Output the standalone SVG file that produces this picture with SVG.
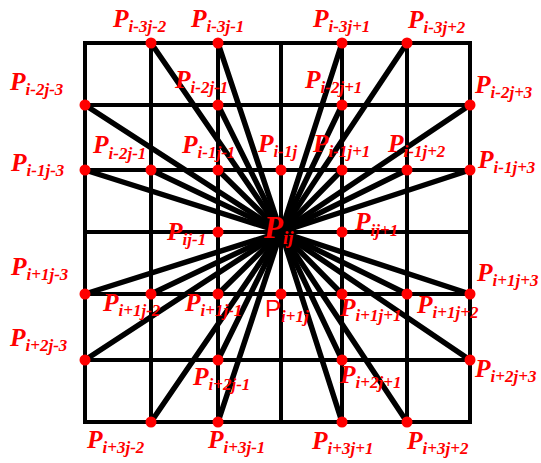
<svg xmlns="http://www.w3.org/2000/svg" width="541" height="463" viewBox="0 0 541 463">
<style>
.grid{stroke:#000;stroke-width:4;fill:none}
.con line{stroke:#000;stroke-width:5.5;stroke-linecap:round}
.dot{fill:#ff0000}
.lb{font-family:"Liberation Serif","Times New Roman",serif;font-weight:bold;font-style:italic;fill:#ff0000;font-size:25.5px}
.lb tspan{font-size:17px}
.ctr{font-size:31px}
.ctr tspan{font-size:19px}
.up{font-family:"Liberation Sans",Arial,sans-serif;font-style:normal;font-weight:normal}
</style>
<rect width="541" height="463" fill="#fff"/>
<g id="grid" class="grid">
<rect x="85" y="43" width="385" height="379"/>
<line x1="151" y1="43" x2="151" y2="422"/>
<line x1="218" y1="43" x2="218" y2="422"/>
<line x1="281" y1="43" x2="281" y2="422"/>
<line x1="342" y1="43" x2="342" y2="422"/>
<line x1="407" y1="43" x2="407" y2="422"/>
<line x1="85" y1="105" x2="470" y2="105"/>
<line x1="85" y1="170" x2="470" y2="170"/>
<line x1="85" y1="232" x2="470" y2="232"/>
<line x1="85" y1="294" x2="470" y2="294"/>
<line x1="85" y1="360" x2="470" y2="360"/>
</g>
<g id="connectors" class="con">
<line x1="281" y1="232" x2="151" y2="43"/>
<line x1="281" y1="232" x2="218" y2="43"/>
<line x1="281" y1="232" x2="342" y2="43"/>
<line x1="281" y1="232" x2="407" y2="43"/>
<line x1="281" y1="232" x2="85" y2="105"/>
<line x1="281" y1="232" x2="218" y2="105"/>
<line x1="281" y1="232" x2="342" y2="105"/>
<line x1="281" y1="232" x2="470" y2="105"/>
<line x1="281" y1="232" x2="85" y2="170"/>
<line x1="281" y1="232" x2="151" y2="170"/>
<line x1="281" y1="232" x2="218" y2="170"/>
<line x1="281" y1="232" x2="342" y2="170"/>
<line x1="281" y1="232" x2="407" y2="170"/>
<line x1="281" y1="232" x2="470" y2="170"/>
<line x1="281" y1="232" x2="85" y2="294"/>
<line x1="281" y1="232" x2="151" y2="294"/>
<line x1="281" y1="232" x2="218" y2="294"/>
<line x1="281" y1="232" x2="342" y2="294"/>
<line x1="281" y1="232" x2="407" y2="294"/>
<line x1="281" y1="232" x2="470" y2="294"/>
<line x1="281" y1="232" x2="85" y2="360"/>
<line x1="281" y1="232" x2="218" y2="360"/>
<line x1="281" y1="232" x2="342" y2="360"/>
<line x1="281" y1="232" x2="470" y2="360"/>
<line x1="281" y1="232" x2="151" y2="422"/>
<line x1="281" y1="232" x2="218" y2="422"/>
<line x1="281" y1="232" x2="342" y2="422"/>
<line x1="281" y1="232" x2="407" y2="422"/>
</g>
<g id="p_i-3j-2"><circle class="dot" cx="151" cy="43" r="5.5"/><text class="lb" x="113" y="27">P<tspan dy="5">i-3j-2</tspan></text></g>
<g id="p_i-3j-1"><circle class="dot" cx="218" cy="43" r="5.5"/><text class="lb" x="191" y="27">P<tspan dy="5">i-3j-1</tspan></text></g>
<g id="p_i-3j+1"><circle class="dot" cx="342" cy="43" r="5.5"/><text class="lb" x="313" y="27">P<tspan dy="5">i-3j+1</tspan></text></g>
<g id="p_i-3j+2"><circle class="dot" cx="407" cy="43" r="5.5"/><text class="lb" x="408" y="28">P<tspan dy="5">i-3j+2</tspan></text></g>
<g id="p_i-2j-3"><circle class="dot" cx="85" cy="105" r="5.5"/><text class="lb" x="10" y="90">P<tspan dy="5">i-2j-3</tspan></text></g>
<g id="p_i-2j-1"><circle class="dot" cx="218" cy="105" r="5.5"/><text class="lb" x="175" y="88">P<tspan dy="5">i-2j-1</tspan></text></g>
<g id="p_i-2j+1"><circle class="dot" cx="342" cy="105" r="5.5"/><text class="lb" x="305" y="88">P<tspan dy="5">i-2j+1</tspan></text></g>
<g id="p_i-2j+3"><circle class="dot" cx="470" cy="105" r="5.5"/><text class="lb" x="475" y="93">P<tspan dy="5">i-2j+3</tspan></text></g>
<g id="p_i-1j-3"><circle class="dot" cx="85" cy="170" r="5.5"/><text class="lb" x="11" y="171">P<tspan dy="5">i-1j-3</tspan></text></g>
<g id="p_i-1j-2"><circle class="dot" cx="151" cy="170" r="5.5"/><text class="lb" x="93" y="153">P<tspan dy="6">i-2j-1</tspan></text></g>
<g id="p_i-1j-1"><circle class="dot" cx="218" cy="170" r="5.5"/><text class="lb" x="182" y="153">P<tspan dy="5">i-1j-1</tspan></text></g>
<g id="p_i-1j"><circle class="dot" cx="281" cy="170" r="5.5"/><text class="lb" x="258" y="152">P<tspan dy="5">i-1j</tspan></text></g>
<g id="p_i-1j+1"><circle class="dot" cx="342" cy="170" r="5.5"/><text class="lb" x="313" y="152">P<tspan dy="5">i-1j+1</tspan></text></g>
<g id="p_i-1j+2"><circle class="dot" cx="407" cy="170" r="5.5"/><text class="lb" x="388" y="152">P<tspan dy="5">i-1j+2</tspan></text></g>
<g id="p_i-1j+3"><circle class="dot" cx="470" cy="170" r="5.5"/><text class="lb" x="478" y="168">P<tspan dy="5">i-1j+3</tspan></text></g>
<g id="p_ij-1"><circle class="dot" cx="218" cy="232" r="5.5"/><text class="lb" x="167" y="240">P<tspan dy="5">ij-1</tspan></text></g>
<g id="p_ij"><text class="lb ctr" x="264" y="238">P<tspan dy="6">ij</tspan></text></g>
<g id="p_ij+1"><circle class="dot" cx="342" cy="232" r="5.5"/><text class="lb" x="355" y="230">P<tspan dy="6">ij+1</tspan></text></g>
<g id="p_i+1j-3"><circle class="dot" cx="85" cy="294" r="5.5"/><text class="lb" x="11" y="275">P<tspan dy="5">i+1j-3</tspan></text></g>
<g id="p_i+1j-2"><circle class="dot" cx="151" cy="294" r="5.5"/><text class="lb" x="103" y="311">P<tspan dy="5">i+1j-2</tspan></text></g>
<g id="p_i+1j-1"><circle class="dot" cx="218" cy="294" r="5.5"/><text class="lb" x="185" y="311">P<tspan dy="5">i+1j-1</tspan></text></g>
<g id="p_i+1j"><circle class="dot" cx="281" cy="294" r="5.5"/><text class="lb" x="265" y="317"><tspan class="up" style="font-size:24px">P</tspan><tspan dy="5">i+1j</tspan></text></g>
<g id="p_i+1j+1"><circle class="dot" cx="342" cy="294" r="5.5"/><text class="lb" x="340" y="316">P<tspan dy="5">i+1j+1</tspan></text></g>
<g id="p_i+1j+2"><circle class="dot" cx="407" cy="294" r="5.5"/><text class="lb" x="417" y="313">P<tspan dy="5">i+1j+2</tspan></text></g>
<g id="p_i+1j+3"><circle class="dot" cx="470" cy="294" r="5.5"/><text class="lb" x="477" y="281">P<tspan dy="5">i+1j+3</tspan></text></g>
<g id="p_i+2j-3"><circle class="dot" cx="85" cy="360" r="5.5"/><text class="lb" x="10" y="346">P<tspan dy="5">i+2j-3</tspan></text></g>
<g id="p_i+2j-1"><circle class="dot" cx="218" cy="360" r="5.5"/><text class="lb" x="193" y="385">P<tspan dy="5">i+2j-1</tspan></text></g>
<g id="p_i+2j+1"><circle class="dot" cx="342" cy="360" r="5.5"/><text class="lb" x="340" y="383">P<tspan dy="5">i+2j+1</tspan></text></g>
<g id="p_i+2j+3"><circle class="dot" cx="470" cy="360" r="5.5"/><text class="lb" x="475" y="377">P<tspan dy="5">i+2j+3</tspan></text></g>
<g id="p_i+3j-2"><circle class="dot" cx="151" cy="422" r="5.5"/><text class="lb" x="87" y="448">P<tspan dy="5">i+3j-2</tspan></text></g>
<g id="p_i+3j-1"><circle class="dot" cx="218" cy="422" r="5.5"/><text class="lb" x="208" y="448">P<tspan dy="5">i+3j-1</tspan></text></g>
<g id="p_i+3j+1"><circle class="dot" cx="342" cy="422" r="5.5"/><text class="lb" x="312" y="449">P<tspan dy="5">i+3j+1</tspan></text></g>
<g id="p_i+3j+2"><circle class="dot" cx="407" cy="422" r="5.5"/><text class="lb" x="407" y="449">P<tspan dy="5">i+3j+2</tspan></text></g>
</svg>
